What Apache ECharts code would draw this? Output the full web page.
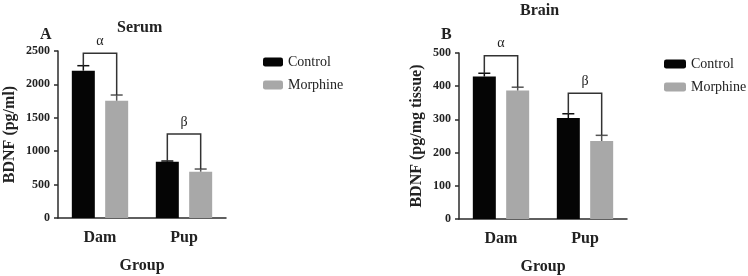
<!DOCTYPE html>
<html>
<head>
<meta charset="utf-8">
<script src="https://cdn.jsdelivr.net/npm/echarts@6/dist/echarts.min.js"></script>
<style>
  html, body { margin: 0; padding: 0; background: #fff; }
  #chart { width: 748px; height: 276px; }
</style>
</head>
<body>
<div id="chart"></div>
<script>
// values (mean and upper error)
var categories = ['Dam', 'Pup'];
var serumControl = [2205, 843];
var serumControlErr = [75, 10];
var serumMorphine = [1756, 693];
var serumMorphineErr = [85, 40];
var brainControl = [429, 304];
var brainControlErr = [10, 13];
var brainMorphine = [387, 235];
var brainMorphineErr = [10, 17];
var serumBracket = [2466, 1257];
var brainBracket = [492, 379];
var marks = ['α', 'β'];

var FONT = 'Liberation Serif';
var BAR_W = 23;
var BAR_GAP = 0.45;
var SHIFT = (BAR_W + BAR_W * BAR_GAP) / 2;
var AXIS_COLOR = '#2b2b2b';

function errorItem(params, api) {
    var base = api.coord([api.value(0), api.value(1)]);
    var top = api.coord([api.value(0), api.value(1) + api.value(2)]);
    var cx = base[0] + api.value(3) * SHIFT;
    var color = api.visual('color');
    return {
        type: 'group',
        children: [
            { type: 'line', shape: { x1: cx, y1: base[1], x2: cx, y2: top[1] }, style: { stroke: color, lineWidth: 1.5 } },
            { type: 'line', shape: { x1: cx - 6, y1: top[1], x2: cx + 6, y2: top[1] }, style: { stroke: color, lineWidth: 1.5 } }
        ]
    };
}

function bracketItem(params, api) {
    var cat = api.value(0);
    var left = api.coord([cat, api.value(1)]);
    var right = api.coord([cat, api.value(2)]);
    var top = api.coord([cat, api.value(3)]);
    var x1 = left[0] - SHIFT, x2 = right[0] + SHIFT;
    return {
        type: 'group',
        children: [
            {
                type: 'polyline',
                shape: { points: [[x1, left[1]], [x1, top[1]], [x2, top[1]], [x2, right[1]]] },
                style: { stroke: '#333', lineWidth: 1.5, fill: null }
            },
            {
                type: 'text',
                style: {
                    x: (x1 + x2) / 2, y: top[1] - 5, text: marks[params.dataIndex],
                    align: 'center', verticalAlign: 'bottom',
                    font: '14px "' + FONT + '"', fill: '#222'
                }
            }
        ]
    };
}

function errData(vals, errs, side) {
    return vals.map(function (v, i) { return [i, v, errs[i], side]; });
}

function bracketData(ctrl, ctrlErr, morph, morphErr, tops) {
    return tops.map(function (t, i) { return [i, ctrl[i] + ctrlErr[i], morph[i] + morphErr[i], t]; });
}

function xAxisOpt(gridIndex) {
    return {
        type: 'category', gridIndex: gridIndex, data: categories,
        name: 'Group', nameLocation: 'middle', nameGap: 40,
        nameTextStyle: { fontFamily: FONT, fontWeight: 'bold', fontSize: 16, color: '#222' },
        axisLine: { lineStyle: { color: AXIS_COLOR, width: 1.5 } },
        axisTick: { alignWithLabel: true, length: 5, lineStyle: { color: AXIS_COLOR, width: 1.5 } },
        axisLabel: { fontFamily: FONT, fontWeight: 'bold', fontSize: 16, color: '#222', margin: 12 }
    };
}

function yAxisOpt(gridIndex, name, max, interval, gap) {
    return {
        type: 'value', gridIndex: gridIndex, min: 0, max: max, interval: interval,
        name: name, nameLocation: 'middle', nameGap: gap,
        nameTextStyle: { fontFamily: FONT, fontWeight: 'bold', fontSize: 16, color: '#222' },
        splitLine: { show: false },
        axisLine: { show: true, lineStyle: { color: AXIS_COLOR, width: 1.5 } },
        axisTick: { show: true, length: 4, lineStyle: { color: AXIS_COLOR, width: 1.5 } },
        axisLabel: {
            fontFamily: FONT, fontWeight: 'bold', fontSize: 12, color: '#222', margin: 8,
            formatter: function (v) { return String(v); }
        }
    };
}

var legendText = { fontFamily: FONT, fontSize: 14, color: '#222' };

var chart = echarts.init(document.getElementById('chart'));

var option = {
    backgroundColor: '#fff',
    animation: false,
    textStyle: { fontFamily: FONT },
    title: [
        { text: 'Serum', left: 117, top: 20, padding: 0, textStyle: { fontFamily: FONT, fontWeight: 'bold', fontSize: 16, color: '#222' } },
        { text: 'Brain', left: 520, top: 3, padding: 0, textStyle: { fontFamily: FONT, fontWeight: 'bold', fontSize: 16, color: '#222' } }
    ],
    graphic: [
        { type: 'text', left: 40, top: 27, style: { text: 'A', font: 'bold 16px "' + FONT + '"', fill: '#222' } },
        { type: 'text', left: 441, top: 27, style: { text: 'B', font: 'bold 16px "' + FONT + '"', fill: '#222' } }
    ],
    legend: [
        {
            left: 263, top: 55, padding: 0, orient: 'vertical', itemWidth: 20, itemHeight: 9, itemGap: 9,
            data: [{ name: 'Control', textStyle: legendText }, { name: 'Morphine', textStyle: legendText }],
            selectedMode: false, textStyle: legendText
        },
        {
            left: 664, top: 57, padding: 0, orient: 'vertical', itemWidth: 22, itemHeight: 9, itemGap: 9,
            data: [{ name: 'Control', textStyle: legendText }, { name: 'Morphine', textStyle: legendText }],
            selectedMode: false, textStyle: legendText
        }
    ],
    grid: [
        { left: 58, top: 51, width: 168, height: 167, outerBoundsMode: 'none' },
        { left: 459, top: 53, width: 168, height: 166, outerBoundsMode: 'none' }
    ],
    xAxis: [xAxisOpt(0), xAxisOpt(1)],
    yAxis: [
        yAxisOpt(0, 'BDNF (pg/ml)', 2500, 500, 40),
        yAxisOpt(1, 'BDNF (pg/mg tissue)', 500, 100, 34)
    ],
    series: [
        { name: 'Control', type: 'bar', xAxisIndex: 0, yAxisIndex: 0, data: serumControl, barWidth: BAR_W, barGap: '45%', itemStyle: { color: '#050505' } },
        { name: 'Morphine', type: 'bar', xAxisIndex: 0, yAxisIndex: 0, data: serumMorphine, barWidth: BAR_W, barGap: '45%', itemStyle: { color: '#a8a8a8' } },
        { name: 'Control', type: 'bar', xAxisIndex: 1, yAxisIndex: 1, data: brainControl, barWidth: BAR_W, barGap: '45%', itemStyle: { color: '#050505' } },
        { name: 'Morphine', type: 'bar', xAxisIndex: 1, yAxisIndex: 1, data: brainMorphine, barWidth: BAR_W, barGap: '45%', itemStyle: { color: '#a8a8a8' } },
        { name: 'errC1', type: 'custom', xAxisIndex: 0, yAxisIndex: 0, renderItem: errorItem, itemStyle: { color: '#111' }, data: errData(serumControl, serumControlErr, -1), z: 3 },
        { name: 'errM1', type: 'custom', xAxisIndex: 0, yAxisIndex: 0, renderItem: errorItem, itemStyle: { color: '#555' }, data: errData(serumMorphine, serumMorphineErr, 1), z: 3 },
        { name: 'errC2', type: 'custom', xAxisIndex: 1, yAxisIndex: 1, renderItem: errorItem, itemStyle: { color: '#111' }, data: errData(brainControl, brainControlErr, -1), z: 3 },
        { name: 'errM2', type: 'custom', xAxisIndex: 1, yAxisIndex: 1, renderItem: errorItem, itemStyle: { color: '#555' }, data: errData(brainMorphine, brainMorphineErr, 1), z: 3 },
        { name: 'br1', type: 'custom', xAxisIndex: 0, yAxisIndex: 0, renderItem: bracketItem, data: bracketData(serumControl, serumControlErr, serumMorphine, serumMorphineErr, serumBracket), z: 4 },
        { name: 'br2', type: 'custom', xAxisIndex: 1, yAxisIndex: 1, renderItem: bracketItem, data: bracketData(brainControl, brainControlErr, brainMorphine, brainMorphineErr, brainBracket), z: 4 }
    ]
};

chart.setOption(option);
</script>
</body>
</html>
